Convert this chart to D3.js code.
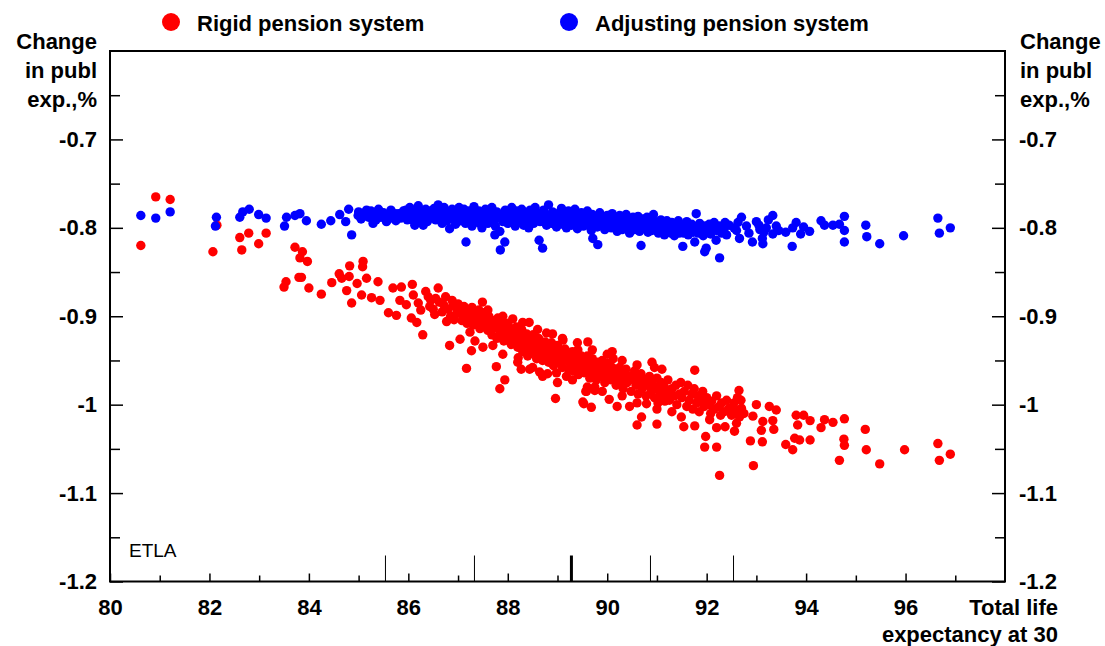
<!DOCTYPE html>
<html>
<head>
<meta charset="utf-8">
<script src="https://cdn.jsdelivr.net/npm/d3@7"></script>
<style>
  html, body { margin: 0; padding: 0; background: #fff; overflow: hidden; }
  svg { display: block; }
  text { font-family: "Liberation Sans", Arial, sans-serif; }
</style>
</head>
<body>
<script>
// series: [total life expectancy at 30, change in public expenditure %]
const rigidPoints = [
  [80.62,-0.820],[80.92,-0.765],[81.21,-0.768],[82.07,-0.827],[82.15,-0.797],[82.61,-0.811],[82.65,-0.825],
  [82.79,-0.806],[82.99,-0.818],[83.14,-0.806],[83.72,-0.822],[83.82,-0.834],[83.87,-0.827],[83.97,-0.838],
  [83.85,-0.856],[83.54,-0.861],[83.50,-0.867],[83.80,-0.856],[84.00,-0.868],[84.25,-0.875],[84.46,-0.862],
  [84.61,-0.852],[84.66,-0.857],[84.82,-0.843],[85.09,-0.838],[85.08,-0.844],[84.81,-0.855],[84.76,-0.871],
  [84.86,-0.885],[84.97,-0.863],[85.16,-0.857],[85.39,-0.861],[85.06,-0.876],[85.26,-0.879],[85.43,-0.882],
  [85.60,-0.896],[85.76,-0.899],[85.69,-0.868],[85.86,-0.867],[86.08,-0.864],[85.83,-0.882],[85.96,-0.887],
  [86.20,-0.885],[86.06,-0.902],[86.17,-0.907],[86.29,-0.921],[86.40,-0.878],[86.60,-0.868],[86.43,-0.889],
  [86.53,-0.898],[86.71,-0.887],[86.90,-0.887],[86.77,-0.906],[86.97,-0.897],[87.13,-0.899],[87.49,-0.884],
  [86.83,-0.933],[87.04,-0.926],[87.17,-0.959],[87.27,-0.939],[87.24,-0.918],[87.34,-0.928],[87.44,-0.914],
  [87.37,-0.899],[87.57,-0.902],[87.70,-0.914],[87.80,-0.902],[87.70,-0.933],[87.77,-0.957],[87.94,-0.972],
  [87.84,-0.982],[88.03,-0.917],[87.92,-0.928],[88.07,-0.932],[88.21,-0.947],[88.27,-0.960],[88.44,-0.960],
  [88.43,-0.907],[88.51,-0.921],[88.58,-0.936],[88.64,-0.963],[88.70,-0.968],[88.78,-0.919],[88.98,-0.964],
  [88.96,-0.993],[89.11,-0.927],[89.18,-0.968],[89.35,-0.951],[89.41,-0.938],[89.57,-0.985],[89.61,-0.929],
  [89.51,-0.997],[89.75,-0.980],
  [86.10,-0.876],[86.25,-0.893],[86.35,-0.872],[86.45,-0.882],[86.50,-0.892],[86.55,-0.880],
  [86.62,-0.884],[86.68,-0.895],[86.75,-0.878],[86.80,-0.892],[86.85,-0.900],[86.88,-0.882],[86.92,-0.904],
  [86.96,-0.890],[87.00,-0.886],[87.05,-0.896],[87.08,-0.905],[87.12,-0.889],[87.18,-0.908],[87.20,-0.895],
  [87.25,-0.902],[87.28,-0.890],[87.30,-0.910],[87.33,-0.897],[87.38,-0.906],[87.42,-0.893],[87.46,-0.903],
  [87.50,-0.912],[87.52,-0.896],[87.55,-0.908],[87.60,-0.916],[87.62,-0.900],[87.66,-0.907],[87.68,-0.921],
  [87.72,-0.905],[87.75,-0.912],[87.78,-0.925],[87.82,-0.910],[87.85,-0.918],[87.88,-0.906],[87.90,-0.922],
  [87.95,-0.913],[87.98,-0.926],[88.00,-0.908],[88.05,-0.921],[88.08,-0.914],[88.10,-0.930],[88.12,-0.918],
  [88.15,-0.924],[88.18,-0.912],[88.20,-0.935],[88.22,-0.920],[88.25,-0.928],[88.28,-0.915],[88.30,-0.940],
  [88.32,-0.925],[88.35,-0.932],[88.38,-0.920],[88.40,-0.945],[88.42,-0.930],[88.45,-0.937],[88.48,-0.925],
  [88.50,-0.934],[88.52,-0.942],[88.55,-0.928],[88.58,-0.948],[88.60,-0.935],[88.62,-0.925],[88.65,-0.941],
  [88.68,-0.932],[88.70,-0.950],[88.72,-0.938],[88.75,-0.929],[88.78,-0.945],[88.80,-0.936],[88.82,-0.952],
  [88.85,-0.940],[88.88,-0.930],[88.90,-0.946],[88.92,-0.956],[88.95,-0.938],[88.98,-0.948],[89.00,-0.933],
  [89.02,-0.944],[89.05,-0.952],[89.08,-0.940],[89.10,-0.958],[89.12,-0.946],[89.15,-0.937],[89.18,-0.950],
  [89.20,-0.943],[89.22,-0.960],[89.25,-0.948],[89.28,-0.955],[89.30,-0.940],[89.32,-0.962],[89.35,-0.950],
  [89.38,-0.945],[89.40,-0.957],[89.42,-0.966],[89.45,-0.952],[89.48,-0.945],[89.50,-0.958],[89.52,-0.948],
  [89.55,-0.964],[89.58,-0.953],[89.60,-0.945],[89.62,-0.960],[89.65,-0.970],[89.68,-0.955],[89.70,-0.948],
  [89.72,-0.963],[89.75,-0.957],[89.78,-0.972],[89.80,-0.952],[89.82,-0.962],[89.85,-0.968],[89.88,-0.956],
  [89.90,-0.950],[89.92,-0.965],[89.95,-0.975],[89.98,-0.960],[90.00,-0.953],[90.02,-0.968],[90.05,-0.962],
  [90.08,-0.972],[90.10,-0.958],[90.12,-0.948],[90.15,-0.966],[90.18,-0.978],[90.20,-0.962],[90.22,-0.970],
  [90.25,-0.958],[90.28,-0.975],[90.30,-0.965],[90.32,-0.982],[90.35,-0.968],[90.38,-0.960],[90.40,-0.975],
  [90.45,-0.968],[90.48,-0.985],[90.50,-0.972],[90.55,-0.962],[90.58,-0.978],[90.60,-0.968],[90.62,-0.988],
  [90.65,-0.975],[90.68,-0.965],[90.70,-0.982],[90.75,-0.972],[90.78,-0.990],[90.80,-0.978],[90.85,-0.968],
  [90.88,-0.985],[90.90,-0.976],[90.95,-0.992],[90.98,-0.980],[90.90,-0.952],[90.95,-0.958],[91.00,-0.970],
  [91.05,-0.985],[91.08,-0.975],[91.10,-0.992],[91.15,-0.980],[91.20,-0.988],[91.22,-0.972],[91.25,-0.995],
  [91.30,-0.982],[91.35,-0.990],[91.38,-0.978],[91.40,-1.000],[91.45,-0.988],[91.48,-0.975],[91.50,-0.992],
  [91.55,-0.985],[91.60,-1.002],[91.62,-0.978],[91.65,-0.995],[91.70,-0.988],[91.72,-1.005],[91.75,-0.982],
  [91.80,-0.998],[91.82,-0.990],[91.85,-1.008],[91.90,-0.995],[91.92,-0.985],[91.95,-1.002],[92.00,-0.992],
  [92.05,-1.000],[92.08,-1.010],[92.10,-0.996],[92.15,-1.005],[92.20,-0.990],[92.25,-1.002],[92.28,-1.012],
  [92.30,-0.998],[92.35,-1.008],[92.40,-0.995],[92.45,-1.004],[92.50,-1.012],[92.55,-0.998],[92.60,-1.006],
  [92.62,-0.992],[92.70,-1.004],[92.75,-1.010],
  [87.60,-0.893],[87.90,-0.900],[88.10,-0.903],[88.30,-0.907],[88.60,-0.915],[88.90,-0.920],[89.10,-0.925],
  [89.40,-0.930],[89.70,-0.938],[90.00,-0.943],[90.30,-0.950],[90.60,-0.955],[88.20,-0.952],[88.50,-0.958],
  [88.80,-0.965],[89.00,-0.975],[89.30,-0.972],[89.60,-0.980],[89.90,-0.985],[90.30,-0.990],[90.60,-0.998],
  [91.00,-1.005],[91.30,-1.008],[87.50,-0.935],[87.90,-0.943],[90.10,-0.940],[91.10,-0.960],
  [89.68,-1.003],[89.53,-0.999],[89.58,-0.985],[89.75,-0.984],[90.04,-0.994],[90.20,-1.002],[90.45,-1.002],
  [90.60,-1.023],[90.69,-1.014],[90.79,-0.999],[91.00,-1.022],[91.02,-0.998],[91.16,-0.996],[91.49,-1.014],
  [91.54,-1.025],[91.76,-1.024],[91.76,-0.961],[91.98,-1.036],[91.96,-1.048],[92.06,-1.017],[92.20,-1.026],
  [92.20,-1.048],[92.26,-1.080],[92.37,-1.025],[92.56,-1.030],[92.60,-1.021],[92.65,-0.984],[92.69,-0.995],
  [92.66,-1.014],[92.88,-1.041],[92.93,-1.013],[92.94,-1.069],[93.00,-1.000],[93.10,-1.029],[93.12,-1.042],
  [93.13,-1.019],[93.26,-1.002],[93.33,-1.018],[93.35,-1.028],[93.40,-1.006],[93.59,-1.045],[93.73,-1.051],
  [93.77,-1.038],[93.80,-1.012],[93.83,-1.023],[93.87,-1.040],[93.95,-1.012],[94.08,-1.018],[94.08,-1.040],
  [94.30,-1.026],[94.37,-1.017],[94.54,-1.020],[94.67,-1.063],[94.76,-1.039],[94.77,-1.016],[94.77,-1.046],
  [95.19,-1.028],[95.21,-1.051],[95.48,-1.067],[95.98,-1.051],[96.65,-1.044],[96.68,-1.063],[96.90,-1.056]
]

const adjustingPoints = [
  [80.62,-0.786],[80.92,-0.789],[81.21,-0.782],[82.12,-0.798],[82.14,-0.788],[82.61,-0.788],[82.67,-0.782],
  [82.80,-0.779],[82.99,-0.785],[83.14,-0.789],[83.51,-0.798],[83.55,-0.788],[83.72,-0.786],[83.82,-0.784],
  [83.95,-0.792],[84.25,-0.796],[84.44,-0.792],[84.62,-0.785],[84.80,-0.779],[84.74,-0.793],[84.86,-0.808],
  [84.99,-0.786],[85.16,-0.780],[85.29,-0.795],[85.43,-0.784],[85.56,-0.793],[85.73,-0.784],[85.90,-0.781],
  [86.03,-0.777],[86.20,-0.775],[86.13,-0.797],[86.30,-0.797],[86.43,-0.782],[86.60,-0.774],
  [85.00,-0.782],[85.05,-0.790],[85.10,-0.785],[85.20,-0.788],[85.25,-0.781],[85.30,-0.786],[85.35,-0.791],
  [85.40,-0.779],[85.45,-0.788],[85.50,-0.783],[85.55,-0.786],[85.60,-0.790],[85.65,-0.780],[85.70,-0.788],
  [85.75,-0.792],[85.80,-0.784],[85.85,-0.789],[85.90,-0.786],[85.95,-0.780],[85.98,-0.791],[86.00,-0.785],
  [86.05,-0.789],[86.08,-0.781],[86.10,-0.792],[86.15,-0.784],[86.18,-0.788],[86.22,-0.780],[86.25,-0.790],
  [86.28,-0.784],[86.32,-0.787],[86.35,-0.779],[86.38,-0.793],[86.40,-0.786],[86.45,-0.781],[86.48,-0.789],
  [86.50,-0.784],[86.52,-0.778],[86.55,-0.791],[86.58,-0.786],[86.62,-0.781],[86.65,-0.789],[86.68,-0.795],
  [86.70,-0.783],[86.72,-0.777],[86.75,-0.788],[86.78,-0.792],[86.80,-0.782],[86.83,-0.801],[86.85,-0.786],
  [86.88,-0.779],[86.90,-0.790],[86.92,-0.784],[86.95,-0.796],[86.98,-0.781],[87.00,-0.787],[87.02,-0.777],
  [87.05,-0.792],[87.08,-0.783],[87.10,-0.789],[87.12,-0.779],[87.15,-0.795],[87.16,-0.816],[87.18,-0.785],
  [87.20,-0.791],[87.22,-0.781],[87.25,-0.788],[87.28,-0.798],[87.30,-0.784],[87.32,-0.776],[87.35,-0.790],
  [87.38,-0.786],[87.40,-0.794],[87.42,-0.781],[87.45,-0.788],[87.48,-0.800],[87.50,-0.784],[87.52,-0.791],
  [87.55,-0.779],[87.58,-0.787],[87.60,-0.795],[87.62,-0.783],[87.65,-0.789],[87.68,-0.777],[87.70,-0.792],
  [87.72,-0.786],[87.74,-0.808],[87.75,-0.798],[87.78,-0.782],[87.80,-0.789],[87.84,-0.804],[87.85,-0.825],
  [87.88,-0.785],[87.90,-0.793],[87.94,-0.816],[87.95,-0.780],[87.98,-0.788],[88.00,-0.795],[88.02,-0.783],
  [88.05,-0.789],[88.08,-0.777],[88.10,-0.792],[88.12,-0.786],[88.15,-0.798],[88.18,-0.781],[88.20,-0.790],
  [88.22,-0.784],[88.25,-0.794],[88.28,-0.779],[88.30,-0.788],[88.32,-0.797],[88.35,-0.783],[88.38,-0.791],
  [88.40,-0.786],[88.42,-0.800],[88.45,-0.780],[88.48,-0.789],[88.50,-0.785],[88.52,-0.795],[88.55,-0.777],
  [88.58,-0.790],[88.60,-0.784],[88.63,-0.814],[88.65,-0.793],[88.68,-0.786],[88.70,-0.823],[88.72,-0.780],
  [88.75,-0.791],[88.78,-0.797],[88.80,-0.786],[88.82,-0.774],[88.85,-0.789],[88.88,-0.795],[88.90,-0.782],
  [88.92,-0.791],[88.95,-0.787],[88.98,-0.799],[89.00,-0.784],[89.02,-0.792],[89.05,-0.788],[89.08,-0.778],
  [89.10,-0.796],[89.12,-0.790],[89.15,-0.784],[89.18,-0.800],[89.20,-0.793],[89.22,-0.781],[89.25,-0.789],
  [89.28,-0.797],[89.30,-0.786],[89.32,-0.792],[89.35,-0.779],[89.38,-0.795],[89.40,-0.801],[89.42,-0.788],
  [89.45,-0.794],[89.48,-0.783],[89.50,-0.791],[89.52,-0.798],[89.55,-0.786],[89.58,-0.793],[89.60,-0.781],
  [89.62,-0.797],[89.65,-0.790],[89.68,-0.803],[89.70,-0.785],[89.71,-0.812],[89.75,-0.794],[89.78,-0.788],
  [89.81,-0.819],[89.80,-0.799],[89.85,-0.783],[89.88,-0.792],[89.90,-0.797],[89.92,-0.787],[89.95,-0.802],
  [89.98,-0.791],[90.00,-0.786],[90.02,-0.796],[90.05,-0.790],[90.08,-0.800],[90.10,-0.784],[90.12,-0.794],
  [90.15,-0.799],[90.18,-0.788],[90.20,-0.804],[90.22,-0.793],[90.25,-0.786],[90.28,-0.797],[90.30,-0.802],
  [90.32,-0.790],[90.35,-0.795],[90.38,-0.785],[90.40,-0.800],[90.42,-0.793],[90.45,-0.806],[90.48,-0.789],
  [90.50,-0.797],[90.52,-0.788],[90.55,-0.802],[90.58,-0.794],[90.60,-0.799],[90.62,-0.787],[90.65,-0.804],
  [90.68,-0.820],[90.70,-0.795],[90.72,-0.790],[90.75,-0.801],[90.78,-0.796],[90.80,-0.788],[90.82,-0.805],
  [90.85,-0.798],[90.88,-0.792],[90.90,-0.803],[90.93,-0.785],[90.95,-0.797],[90.98,-0.801],[91.00,-0.794],
  [91.03,-0.806],[91.05,-0.799],[91.08,-0.791],[91.10,-0.803],[91.13,-0.796],[91.15,-0.808],[91.18,-0.800],
  [91.20,-0.792],[91.23,-0.804],[91.25,-0.798],[91.28,-0.806],[91.30,-0.794],[91.33,-0.801],[91.35,-0.809],
  [91.38,-0.797],[91.40,-0.803],[91.43,-0.792],[91.45,-0.806],[91.48,-0.800],[91.52,-0.821],[91.50,-0.797],
  [91.54,-0.806],[91.57,-0.800],[91.60,-0.793],[91.63,-0.808],[91.66,-0.801],[91.70,-0.796],[91.73,-0.805],
  [91.76,-0.816],[91.79,-0.784],[91.80,-0.799],[91.83,-0.806],[91.86,-0.795],[91.90,-0.803],[91.93,-0.809],
  [91.96,-0.827],[91.99,-0.823],[91.97,-0.798],[92.02,-0.804],[92.05,-0.796],[92.08,-0.807],[92.12,-0.801],
  [92.15,-0.794],[92.19,-0.814],[92.20,-0.803],[92.25,-0.798],[92.26,-0.834],[92.30,-0.806],[92.37,-0.794],
  [92.35,-0.801],[92.40,-0.808],[92.45,-0.797],[92.55,-0.800],[92.60,-0.803],[92.63,-0.794],[92.66,-0.812],
  [92.70,-0.788],[92.80,-0.798],[92.85,-0.806],[92.92,-0.816],[93.00,-0.793],[93.05,-0.797],[93.07,-0.802],
  [93.12,-0.812],[93.13,-0.818],[93.15,-0.805],[93.20,-0.800],[93.24,-0.791],[93.33,-0.786],[93.33,-0.807],
  [93.40,-0.798],[93.45,-0.803],[93.59,-0.805],[93.72,-0.821],[93.73,-0.800],[93.80,-0.794],[93.89,-0.807],
  [93.95,-0.799],[94.07,-0.804],[94.30,-0.792],[94.37,-0.797],[94.54,-0.797],[94.67,-0.796],[94.77,-0.787],
  [94.77,-0.803],[94.77,-0.816],[95.20,-0.797],[95.22,-0.810],[95.48,-0.818],[95.96,-0.809],[96.65,-0.789],
  [96.68,-0.806],[96.90,-0.800]
]

const seriesNames = ['Rigid pension system', 'Adjusting pension system']
const seriesColors = ['#ff0000', '#0000ff']
const yMajorTicks = [-0.7, -0.8, -0.9, -1.0, -1.1, -1.2]
const yMinorTicks = [-0.65, -0.75, -0.85, -0.95, -1.05, -1.15]
const xMajorTicks = [80, 82, 84, 86, 88, 90, 92, 94, 96]
const xMinorTicks = [81, 83, 85, 87, 89, 91, 93, 95, 97]
// marker lines standing up from the x axis
const markerYears = [85.54, 87.33, 89.28, 90.87, 92.54]
const markerBold = [false, false, true, false, false]
const yTitle = ['Change', 'in publ', 'exp.,%']
const xTitle = ['Total life', 'expectancy at 30']

const width = 1105
const height = 646
const margin = { top: 51, right: 100, bottom: 64.5, left: 110 }
const innerWidth = width - margin.left - margin.right
const innerHeight = height - margin.top - margin.bottom

const svg = d3.select('body').append('svg')
  .attr('width', width)
  .attr('height', height)
  .style('background', '#fff')

const g = svg.append('g')
  .attr('transform', `translate(${margin.left},${margin.top})`)

const xScale = d3.scaleLinear().domain([80, 98]).range([0, innerWidth])
const yScale = d3.scaleLinear().domain([-1.2, -0.6]).range([innerHeight, 0])

const fmt = d => String(+d.toFixed(1))

function styleAxis(sel) {
  sel.select('.domain').remove()
  sel.selectAll('text')
    .attr('font-family', '"Liberation Sans", Arial, sans-serif')
    .attr('font-size', 22)
    .attr('font-weight', 'bold')
    .attr('fill', '#000')
  sel.selectAll('line').attr('stroke', '#000').attr('stroke-width', 1.5)
}

//minor ticks carry no labels, so drop the empty text nodes
function minorAxis(sel) {
  sel.select('.domain').remove()
  sel.selectAll('text').remove()
  sel.selectAll('line').attr('stroke', '#000').attr('stroke-width', 1.5)
}

// left axis, ticks point inwards
g.append('g')
  .call(d3.axisLeft(yScale).tickValues(yMajorTicks).tickSize(-13).tickPadding(13).tickFormat(fmt))
  .call(styleAxis)
g.append('g')
  .call(d3.axisLeft(yScale).tickValues(yMinorTicks).tickSize(-10))
  .call(minorAxis)

// right axis
g.append('g')
  .attr('transform', `translate(${innerWidth},0)`)
  .call(d3.axisRight(yScale).tickValues(yMajorTicks).tickSize(-13).tickPadding(14).tickFormat(fmt))
  .call(styleAxis)
g.append('g')
  .attr('transform', `translate(${innerWidth},0)`)
  .call(d3.axisRight(yScale).tickValues(yMinorTicks).tickSize(-10))
  .call(minorAxis)

// bottom axis
g.append('g')
  .attr('transform', `translate(0,${innerHeight})`)
  .call(d3.axisBottom(xScale).tickValues(xMajorTicks).tickSize(-8).tickPadding(18).tickFormat(d3.format('d')))
  .call(styleAxis)
g.append('g')
  .attr('transform', `translate(0,${innerHeight})`)
  .call(d3.axisBottom(xScale).tickValues(xMinorTicks).tickSize(-6))
  .call(minorAxis)

// marker lines
g.selectAll('.marker')
  .data(markerYears)
  .enter()
  .append('line')
    .attr('class', 'marker')
    .attr('x1', d => xScale(d))
    .attr('x2', d => xScale(d))
    .attr('y1', innerHeight)
    .attr('y2', innerHeight - 26)
    .attr('stroke', '#000')
    .attr('stroke-width', (d, i) => markerBold[i] ? 3 : 1)

// frame
g.append('rect')
  .attr('width', innerWidth)
  .attr('height', innerHeight)
  .attr('fill', 'none')
  .attr('stroke', '#000')
  .attr('stroke-width', 2)

g.append('text')
  .text('ETLA')
  .attr('x', 19)
  .attr('y', innerHeight - 25)
  .attr('font-size', 19)

// points, red first so blue sits on top
const series = [rigidPoints, adjustingPoints]
series.forEach((pts, i) => {
  g.append('g').selectAll('circle')
    .data(pts)
    .enter()
    .append('circle')
      .attr('cx', d => xScale(d[0]))
      .attr('cy', d => yScale(d[1]))
      .attr('r', 4.7)
      .attr('fill', seriesColors[i])
})

// y titles, both sides
const titleLeft = svg.append('text')
  .attr('text-anchor', 'end')
  .attr('font-size', 22)
  .attr('font-weight', 'bold')
titleLeft.selectAll('tspan')
  .data(yTitle)
  .enter()
  .append('tspan')
    .attr('x', 97)
    .attr('y', (d, i) => 48.5 + i * 29)
    .text(d => d)

const titleRight = svg.append('text')
  .attr('text-anchor', 'start')
  .attr('font-size', 22)
  .attr('font-weight', 'bold')
titleRight.selectAll('tspan')
  .data(yTitle)
  .enter()
  .append('tspan')
    .attr('x', 1020)
    .attr('y', (d, i) => 48.5 + i * 29)
    .text(d => d)

// x title
const xt = svg.append('text')
  .attr('text-anchor', 'end')
  .attr('font-size', 22)
  .attr('font-weight', 'bold')
xt.selectAll('tspan')
  .data(xTitle)
  .enter()
  .append('tspan')
    .attr('x', 1058)
    .attr('y', (d, i) => 615 + i * 27)
    .text(d => d)

// legend
const legendX = [171, 569]
const legend = svg.append('g')
seriesNames.forEach((name, i) => {
  legend.append('circle')
    .attr('cx', legendX[i])
    .attr('cy', 22)
    .attr('r', 9)
    .attr('fill', seriesColors[i])
  legend.append('text')
    .text(name)
    .attr('x', legendX[i] + 26)
    .attr('y', 31)
    .attr('font-size', 22)
    .attr('font-weight', 'bold')
})
</script>
</body>
</html>
